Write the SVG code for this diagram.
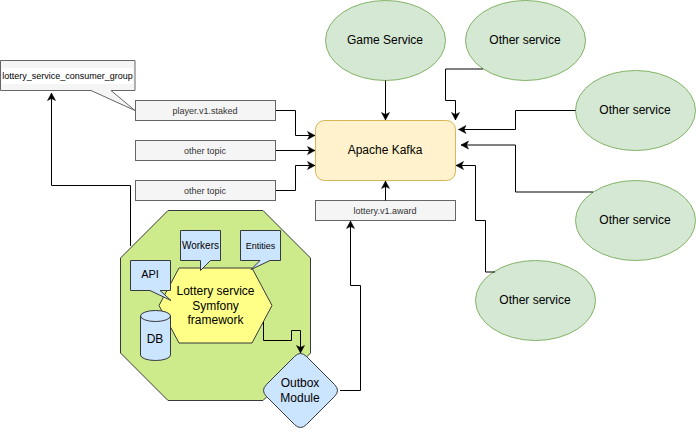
<svg xmlns="http://www.w3.org/2000/svg" width="696" height="432" viewBox="0 0 696 432">
<style>
text{font-family:"Liberation Sans",Arial,sans-serif;font-size:12px;fill:#000;text-anchor:middle}
.topic{fill:#f5f5f5;stroke:#666}
.topic-t{font-size:9px;fill:#333}
.green{fill:#d5e8d4;stroke:#82b366}
.blue{fill:#cce5ff;stroke:#36393d}
.c{fill:none;stroke:#000;stroke-width:1;marker-end:url(#a)}
</style>
<defs><marker id="a" markerUnits="userSpaceOnUse" markerWidth="10" markerHeight="10" refX="8" refY="4.500" orient="auto"><path d="M0.500 0.500L8 4.500L0.500 8.500L2.500 4.500Z" fill="#000" stroke="#000" stroke-width=".5"/></marker></defs>
<rect width="696" height="432" fill="#fff"/>
<g id="connectors-back"><path class="c" d="M130.500 246V185.500H51.500V93"/></g>
<g id="service">
<path d="M168 210.500H263L310.500 258V353L263 400.500H168L120.500 353V258Z" fill="#cdeb8b" stroke="#36393d"/>
</g>
<g id="consumer-group">
<path d="M0.500 60.500H135V90.500H111L135 110.500L91 90.500H0.500Z" fill="#f5f5f5" stroke="#666"/>
<rect x="2" y="68" width="131" height="16" fill="#fff"/>
<text style="font-size:9px" x="67.500" y="79">lottery_service_consumer_group</text>
</g>
<g id="topic-staked"><rect class="topic" x="135.500" y="100.500" width="140" height="20"/><text class="topic-t" x="205" y="114">player.v1.staked</text></g>
<g id="topic-other-1"><rect class="topic" x="135.500" y="140.500" width="140" height="20"/><text class="topic-t" x="205" y="154">other topic</text></g>
<g id="topic-other-2"><rect class="topic" x="135.500" y="180.500" width="140" height="20"/><text class="topic-t" x="205" y="194">other topic</text></g>
<g id="kafka"><rect x="315.500" y="120.500" width="140" height="60" rx="9" fill="#fff2cc" stroke="#d6b656"/><text x="385" y="154">Apache Kafka</text></g>
<g id="topic-award"><rect class="topic" x="315.500" y="200.500" width="140" height="20"/><text class="topic-t" x="385" y="214">lottery.v1.award</text></g>
<g id="game-service"><ellipse class="green" cx="385.500" cy="40.500" rx="60" ry="40"/><text x="385" y="44">Game Service</text></g>
<g id="other-1"><ellipse class="green" cx="525.500" cy="40.500" rx="60" ry="40"/><text x="525" y="44">Other service</text></g>
<g id="other-2"><ellipse class="green" cx="635.500" cy="110.500" rx="60" ry="40"/><text x="635" y="114">Other service</text></g>
<g id="other-3"><ellipse class="green" cx="635.500" cy="220.500" rx="60" ry="40"/><text x="635" y="224">Other service</text></g>
<g id="other-4"><ellipse class="green" cx="535.500" cy="300.500" rx="60" ry="40"/><text x="535" y="304">Other service</text></g>
<g id="lottery-service"><path d="M179 268H252L272 305.500L252 343H179L159 305.500Z" fill="#ffff88" stroke="#36393d"/><text x="215.500" y="295">Lottery service</text><text x="215.500" y="310">Symfony</text><text x="215.500" y="324">framework</text></g>
<g id="api"><path class="blue" d="M130.500 260.500H170.500V290.500H160L171 300.500L150 290.500H130.500Z"/><text style="font-size:11px" x="150" y="278">API</text></g>
<g id="workers"><path class="blue" d="M180.500 230.500H220.500V260.500H210.500L200.500 270.500V260.500H180.500Z"/><text style="font-size:10px" x="200.500" y="249">Workers</text></g>
<g id="entities"><path class="blue" d="M240.500 230.500H280.500V260.500H270L251 269.500L260 260.500H240.500Z"/><text style="font-size:9px" x="260.500" y="249">Entities</text></g>
<g id="db"><path class="blue" d="M140.500 316A15 5.500 0 0 1 170.500 316V355A15 5.500 0 0 1 140.500 355Z"/><path d="M140.500 316A15 5.500 0 0 0 170.500 316" fill="none" stroke="#36393d"/><text x="155" y="343">DB</text></g>
<g id="outbox"><path class="blue" d="M294.500 356.500Q300.500 350.500 306.500 356.500L334.500 384.500Q340.500 390.500 334.500 396.500L306.500 424.500Q300.500 430.500 294.500 424.500L266.500 396.500Q260.500 390.500 266.500 384.500Z"/><text x="300" y="387">Outbox</text><text x="300" y="402">Module</text></g>
<g id="connectors">
<path class="c" d="M276 110.500H295.500V135.500H315"/>
<path class="c" d="M276 150.500H315"/>
<path class="c" d="M276 190.500H295.500V165.500H315"/>
<path class="c" d="M385.500 80.500V120"/>
<path class="c" d="M483 69H445.500V100.500H455.500V120"/>
<path class="c" d="M575.500 110.500H515.500V129.500H458.500"/>
<path class="c" d="M593 192H515.500V145H461"/>
<path class="c" d="M495 272H485.500V220.500H475.500V165.500H456"/>
<path class="c" d="M385.500 200.500V181"/>
<path class="c" d="M263.500 322V340.500H291.500V330.500H300.500V353"/>
<path class="c" d="M340 390.500H360.500V285.500H350.500V221"/>
</g>
</svg>
